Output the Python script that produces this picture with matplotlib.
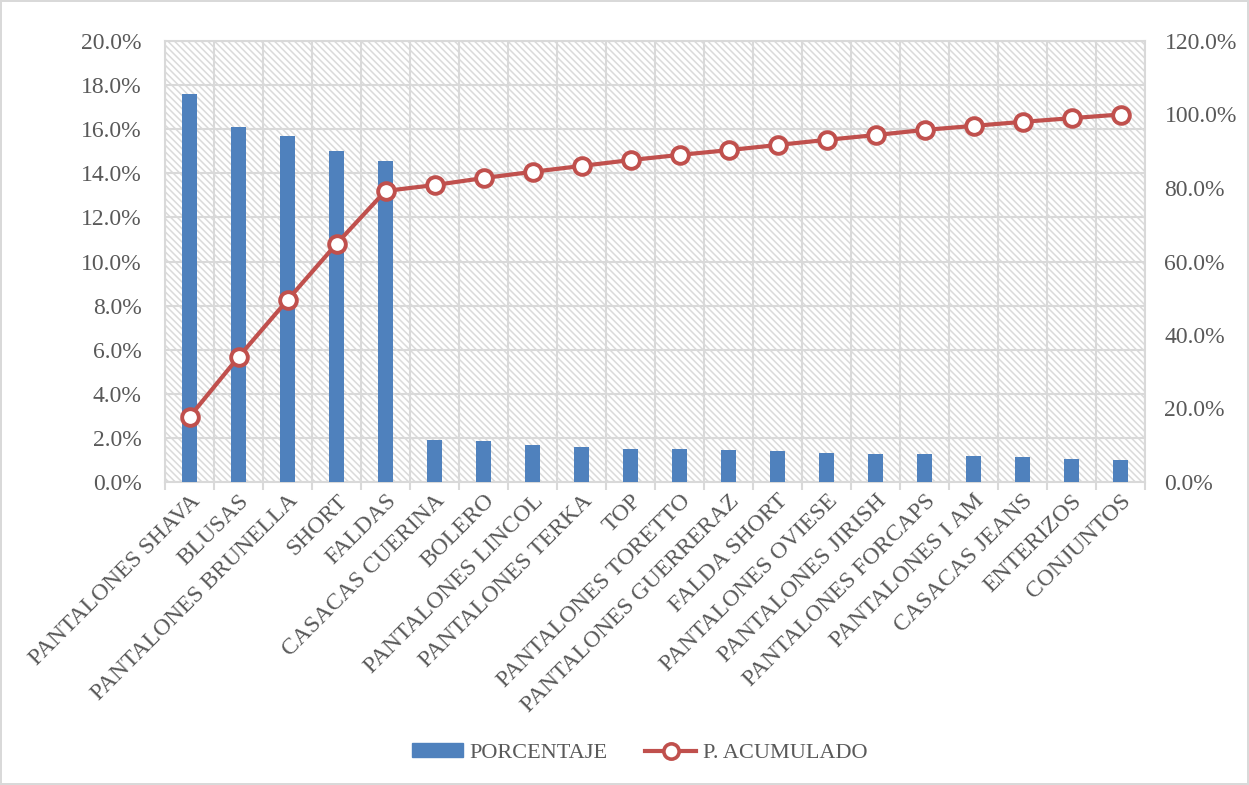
import matplotlib
matplotlib.use("Agg")
import matplotlib.pyplot as plt
import matplotlib.patches as mpatches
from matplotlib.lines import Line2D
from matplotlib.ticker import FuncFormatter, MultipleLocator, FixedLocator
import numpy as np

# === DATA ===
categories = [
    "PANTALONES SHAVA", "BLUSAS", "PANTALONES BRUNELLA", "SHORT", "FALDAS",
    "CASACAS CUERINA", "BOLERO", "PANTALONES LINCOL", "PANTALONES TERKA", "TOP",
    "PANTALONES TORETTO", "PANTALONES GUERRERAZ", "FALDA SHORT", "PANTALONES OVIESE",
    "PANTALONES JIRISH", "PANTALONES FORCAPS", "PANTALONES I AM", "CASACAS JEANS",
    "ENTERIZOS", "CONJUNTOS",
]
porcentaje = [17.6, 16.1, 15.7, 15.0, 14.55, 1.9, 1.85, 1.7, 1.6, 1.5,
              1.48, 1.45, 1.4, 1.3, 1.28, 1.25, 1.2, 1.15, 1.05, 1.0]
acumulado = [17.7, 34.0, 49.5, 64.8, 79.2, 80.8, 82.7, 84.4, 86.0, 87.6,
             89.0, 90.3, 91.7, 93.1, 94.4, 95.8, 96.9, 98.0, 99.0, 100.0]

BAR_COLOR = "#4f81bd"
LINE_COLOR = "#c0504d"
GRID_COLOR = "#d9d9d9"
TEXT_COLOR = "#595959"

plt.rcParams['font.family'] = ['Liberation Serif', 'DejaVu Serif']
plt.rcParams['font.size'] = 17
plt.rcParams['hatch.color'] = '#dadada'
plt.rcParams['hatch.linewidth'] = 1.1

fig = plt.figure(figsize=(12.49, 7.85), dpi=100)
fig.patch.set_edgecolor('#d9d9d9')
fig.patch.set_linewidth(1.5)
ax = fig.add_axes([165 / 1249, 1 - 482 / 785, 980 / 1249, 441 / 785])
x = np.arange(len(categories))

# hatched plot area
ax.add_patch(mpatches.Rectangle((0, 0), 1, 1, transform=ax.transAxes, facecolor='white',
                                edgecolor='#dadada', hatch='\\\\\\\\\\', lw=0, zorder=0))

ax.bar(x, porcentaje, width=0.29, color=BAR_COLOR, zorder=3)
ax.set_xlim(-0.5, len(categories) - 0.5)
ax.set_ylim(0, 20)
ax.yaxis.set_major_locator(MultipleLocator(2))
ax.yaxis.set_major_formatter(FuncFormatter(lambda v, p: f"{v:.1f}%"))

# grid: horizontal on ticks, vertical on category boundaries
ax.xaxis.set_minor_locator(FixedLocator(np.arange(-0.5, len(categories), 1)))
ax.grid(axis='y', which='major', color=GRID_COLOR, lw=1.5, zorder=1)
ax.grid(axis='x', which='minor', color=GRID_COLOR, lw=1.5, zorder=1)
ax.set_axisbelow(True)
for s in ax.spines.values():
    s.set_color(GRID_COLOR)
    s.set_linewidth(1.5)

ax.set_xticks(x)
ax.set_xticklabels(categories, rotation=45, ha='right', rotation_mode='anchor', color=TEXT_COLOR)
ax.tick_params(axis='x', which='major', length=0, pad=6)
ax.tick_params(axis='x', which='minor', length=6, color=GRID_COLOR, width=1.5)
ax.tick_params(axis='y', length=0, colors=TEXT_COLOR, pad=17)

ax2 = ax.twinx()
ax2.plot(x, acumulado, color=LINE_COLOR, lw=3, marker='o', markersize=12,
         markerfacecolor='white', markeredgecolor=LINE_COLOR, markeredgewidth=2.8, zorder=4)
ax2.set_ylim(0, 120)
ax2.yaxis.set_major_locator(MultipleLocator(20))
ax2.yaxis.set_major_formatter(FuncFormatter(lambda v, p: f"{v:.1f}%"))
ax2.tick_params(axis='y', length=0, colors=TEXT_COLOR, pad=14)
for s in ax2.spines.values():
    s.set_visible(False)

handles = [
    mpatches.Patch(color=BAR_COLOR, label='PORCENTAJE'),
    Line2D([0], [0], color=LINE_COLOR, lw=3, marker='o', markersize=11,
           markerfacecolor='white', markeredgecolor=LINE_COLOR, markeredgewidth=2.6,
           label='P. ACUMULADO'),
]
leg = fig.legend(handles=handles, loc='center', bbox_to_anchor=(0.512, 1 - 753 / 785), ncol=2,
                 frameon=False, handlelength=2.3, handleheight=0.55, columnspacing=1.7,
                 handletextpad=0.3, fontsize=16)
for t in leg.get_texts():
    t.set_color(TEXT_COLOR)

plt.savefig('out.png', dpi=100)
plt.close()
